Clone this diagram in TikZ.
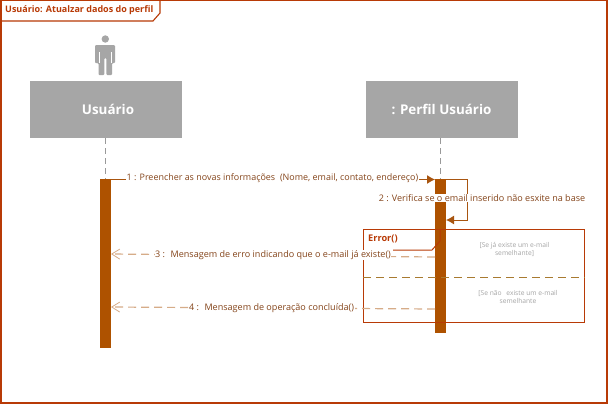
\documentclass[tikz,border=0pt]{standalone}
\usepackage{fontspec}
\setmainfont{Open Sans}
\usetikzlibrary{arrows.meta}
\definecolor{frameC}{HTML}{B83A06}
\definecolor{barC}{HTML}{AE5200}
\definecolor{lineC}{HTML}{A85510}
\definecolor{txtC}{HTML}{84441A}
\definecolor{grayC}{HTML}{A6A6A6}
\definecolor{dashC}{HTML}{D6AC88}
\definecolor{sepC}{HTML}{A87A30}
\tikzset{
 lifehead/.style={fill=grayC,draw=none,minimum width=152pt,minimum height=57pt,inner sep=0,text=white,font=\fontsize{13.4}{15}\selectfont\bfseries},
 lifeline/.style={draw=gray!80,dash pattern=on 6pt off 4pt,line width=.8pt},
 activation/.style={fill=barC,draw=none,minimum width=11pt,inner sep=0},
 msg/.style={text=txtC,font=\fontsize{9.05}{10}\selectfont,inner sep=.5pt,fill=white},
 callline/.style={draw=lineC,line width=1pt,-{Latex[length=8pt,width=9pt]}},
 retline/.style={draw=dashC,line width=1.2pt,dash pattern=on 8pt off 5pt,-{Straight Barb[length=8pt,width=10pt,line width=.8pt]}},
 guard/.style={text=gray!70,font=\fontsize{6.7}{8}\selectfont,align=center,inner sep=0},
 titletext/.style={text=frameC,font=\fontsize{9}{10}\selectfont\bfseries,inner sep=0},
}
\begin{document}
\begin{tikzpicture}[x=1pt,y=-1pt]
\useasboundingbox (0,0) rectangle (610,405);
\fill[white] (0,0) rectangle (610,405);
% frame
\draw[frameC,line width=1.2pt] (1,.7) -- (607,.7) -- (607,403) -- (1,403) -- cycle;
\draw[frameC,line width=1.1pt] (1,21) -- (153,21) -- (160,13) -- (160,.7);
\node[titletext,anchor=west] (title) at (5,10) {Usuário: Atualzar dados do perfil};
% actor
\fill[grayC] (105.3,39) circle (3.7);
\fill[grayC,rounded corners=1pt] (95,45) -- (115,45) -- (115,63) -- (112,63) -- (112,75) -- (106.3,75) -- (106.3,58) -- (104.3,58) -- (104.3,75) -- (98.5,75) -- (98.5,63) -- (95,63) -- cycle;
\draw[white,line width=.5pt] (99,52) -- (99,63) (111.5,52) -- (111.5,63);
% heads
\node[lifehead] (u) at (106,109.5) {\hspace{4pt}Usuário};
\node[lifehead] (p) at (441.5,109.5) {: Perfil Usuário};
% anchors
\coordinate (uTop) at (105.3,138);
\coordinate (pTop) at (440.5,138);
\node[activation,minimum height=169pt] (ua) at (105.5,263.5) {};
\node[activation,minimum height=154pt] (pa) at (440.5,256) {};
\draw[lifeline] (uTop) -- (ua.north -| uTop);
\draw[lifeline] (pTop) -- (pa.north -| pTop);
% fragment
\draw[frameC,line width=1pt] (363,229.5) rectangle (584.5,322.5);
\draw[sepC,line width=1pt,dash pattern=on 8pt off 5pt] (363,277) -- (584.5,277);
\draw[frameC,line width=1pt] (393,250) -- (432,250) -- (440,241) -- (440,229.5);
\node[titletext,anchor=west,font=\fontsize{9.2}{10}\selectfont\bfseries] (err) at (368,239) {Error()};
\node[guard] (g1) at (514.5,249) {[Se já existe um e-mail\\semelhante]};
\node[guard] (g2) at (518,297) {[Se não\hspace{3pt} existe um e-mail\\semelhante};
% message 1
\coordinate (m1a) at (111,179.5);
\coordinate (m1b) at (435,179.5);
\draw[callline] (m1a) -- (m1b);
\node[msg,font=\fontsize{8.95}{10}\selectfont] (m1) at (272.5,178) {1 : Preencher as novas informações\hspace{2.5pt} (Nome, email, contato, endereço)};
% message 2
\coordinate (m2a) at (446,179.5);
\coordinate (m2c) at (467.5,179.5);
\coordinate (m2d) at (467.5,220);
\coordinate (m2b) at (446,220);
\draw[callline] (m2a) -- (m2c) -- (m2d) -- (m2b);
\node[msg] (m2) at (482,198) {2 : Verifica se o email inserido não esxite na base};
% return 3
\coordinate (r3a) at (435,257);
\coordinate (r3b) at (111,254);
\draw[retline] (r3a) -- (r3b);
\node[msg] (m3) at (273,255) {3 :\hspace{2.5pt} Mensagem de erro indicando que o e-mail já existe()};
% return 4
\coordinate (r4a) at (435,309);
\coordinate (r4b) at (111,307);
\draw[retline] (r4a) -- (r4b);
\node[msg] (m4) at (271.5,308) {4 :\hspace{2.5pt} Mensagem de operação concluída()};
\end{tikzpicture}
\end{document}
